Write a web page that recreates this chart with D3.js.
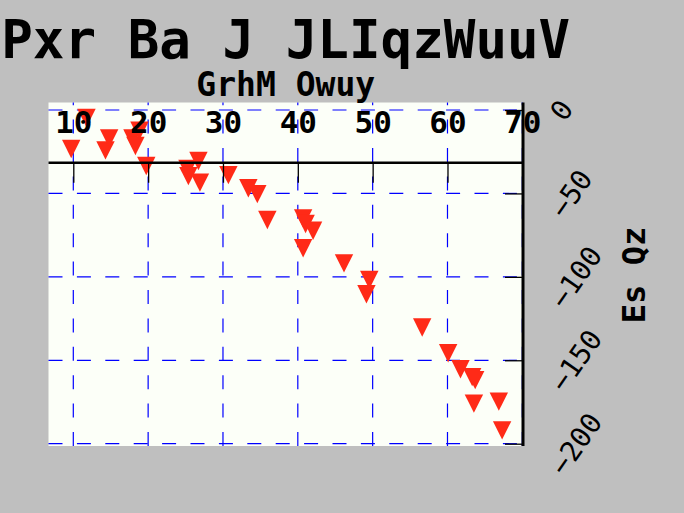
<!DOCTYPE html>
<html><head><meta charset="utf-8">
<script src="https://cdn.jsdelivr.net/npm/d3@7"></script>
<style>html,body{margin:0;padding:0;background:#bfbfbf;}svg{display:block;}</style>
</head><body>
<script>
const title = "Pxr Ba J JLIqzWuuV";
const subtitle = "GrhM Owuy";
const yLabel = "Es Qz";
const xTicks = [10, 20, 30, 40, 50, 60, 70];
const yTicks = [0, -50, -100, -150, -200];
const xValues = [11.76, 9.72, 14.30, 14.79, 17.90, 18.30, 18.84, 19.75, 26.72, 25.25, 25.38, 26.92, 30.72, 33.39, 34.59, 35.93, 40.71, 41.04, 42.04, 40.71, 46.17, 49.55, 49.17, 56.62, 60.09, 61.74, 63.30, 63.70, 63.53, 66.86, 67.30];
const yValues = [-4.8, -23.4, -24.2, -17.1, -17.1, -21.6, -12.4, -33.6, -30.6, -35.4, -39.6, -43.5, -39.0, -46.9, -50.4, -65.9, -65.0, -68.3, -72.4, -82.9, -91.9, -101.9, -110.4, -130.4, -145.8, -155.4, -160.1, -161.9, -176.0, -174.8, -192.0];
const xAxisAt = -31.6;

const W = 684, H = 513;
const L = 48.5, R = 523, T = 102.5, B = 446;
const FONT = "'DejaVu Sans Mono', monospace";

const svg = d3.select("body").append("svg").attr("width", W).attr("height", H);
svg.append("rect").attr("width", W).attr("height", H).attr("fill", "#bfbfbf");

const x = d3.scaleLinear().domain([6.686, 70.09]).range([L, R]);
const y = d3.scaleLinear().domain([-201.38, 4.5]).range([B, T]);

svg.append("rect").attr("x", L).attr("y", T).attr("width", R - L).attr("height", B - T).attr("fill", "#fcfff8");

// grid
const grid = svg.append("g");
grid.selectAll("line.gx").data(xTicks).join("line")
  .attr("x1", d => x(d)).attr("x2", d => x(d)).attr("y1", B).attr("y2", T)
  .attr("stroke", "#0000ff").attr("stroke-width", 1.2).attr("stroke-dasharray", "14,14.4");
grid.selectAll("line.gy").data(yTicks).join("line")
  .attr("y1", d => y(d)).attr("y2", d => y(d)).attr("x1", L).attr("x2", R)
  .attr("stroke", "#0000ff").attr("stroke-width", 1.2).attr("stroke-dasharray", "14,14.4");

// markers
const pts = xValues.map((v, i) => [v, yValues[i]]);
const h = 9.2;
svg.append("g").selectAll("path").data(pts).join("path")
  .attr("d", d => { const cx = x(d[0]), cy = y(d[1]); return `M${cx - h},${cy - h}L${cx + h},${cy - h}L${cx},${cy + h}Z`; })
  .attr("fill", "#ff2a17");

// x axis
const xa = svg.append("g").attr("transform", `translate(0,${y(xAxisAt)})`)
  .call(d3.axisBottom(x).tickValues(xTicks).tickFormat(d3.format("d")).tickSize(20).tickSizeOuter(0));
xa.select(".domain").remove();
xa.append("line").attr("x1", L).attr("x2", R).attr("y1", 0).attr("y2", 0).attr("stroke", "#000").attr("stroke-width", 2.3);
xa.selectAll(".tick line").attr("stroke", "#000").attr("stroke-width", 1.3);
xa.selectAll(".tick text").attr("y", 122 - y(xAxisAt) + 11).attr("dy", null)
  .attr("fill", "#000").style("font-family", FONT).style("font-weight", "bold").style("font-size", "31px");

// y axis (right)
const ya = svg.append("g").attr("transform", `translate(${R},0)`)
  .call(d3.axisRight(y).tickValues(yTicks).tickFormat(d3.format("d")).tickSize(-18).tickSizeOuter(0));
ya.select(".domain").remove();
ya.append("line").attr("x1", 0).attr("x2", 0).attr("y1", T).attr("y2", B).attr("stroke", "#000").attr("stroke-width", 3);
ya.selectAll(".tick line").attr("stroke", "#000").attr("stroke-width", 1.3);
const ang = 55;
ya.selectAll(".tick text")
  .attr("fill", "#000").style("font-family", FONT).style("font-size", "28px")
  .attr("text-anchor", "middle").attr("dominant-baseline", "central").attr("dy", null)
  .each(function () {
    const t = d3.select(this);
    const len = this.getComputedTextLength();
    const cx = 557 - R + len * Math.cos(ang * Math.PI / 180) / 2;
    t.attr("x", cx).attr("y", 0).attr("transform", `rotate(${-ang},${cx},0)`);
  });

// y label
svg.append("text").attr("transform", `translate(645,275) rotate(-90)`).attr("text-anchor", "middle")
  .style("font-family", FONT).style("font-weight", "bold").style("font-size", "32px").text(yLabel);

// titles
svg.append("text").attr("x", (L + R) / 2).attr("y", 57.5).attr("text-anchor", "middle")
  .style("font-family", FONT).style("font-weight", "bold").style("font-size", "52.5px").text(title);
svg.append("text").attr("x", (L + R) / 2).attr("y", 96).attr("text-anchor", "middle")
  .style("font-family", FONT).style("font-weight", "bold").style("font-size", "33px").text(subtitle);
</script>
</body></html>
